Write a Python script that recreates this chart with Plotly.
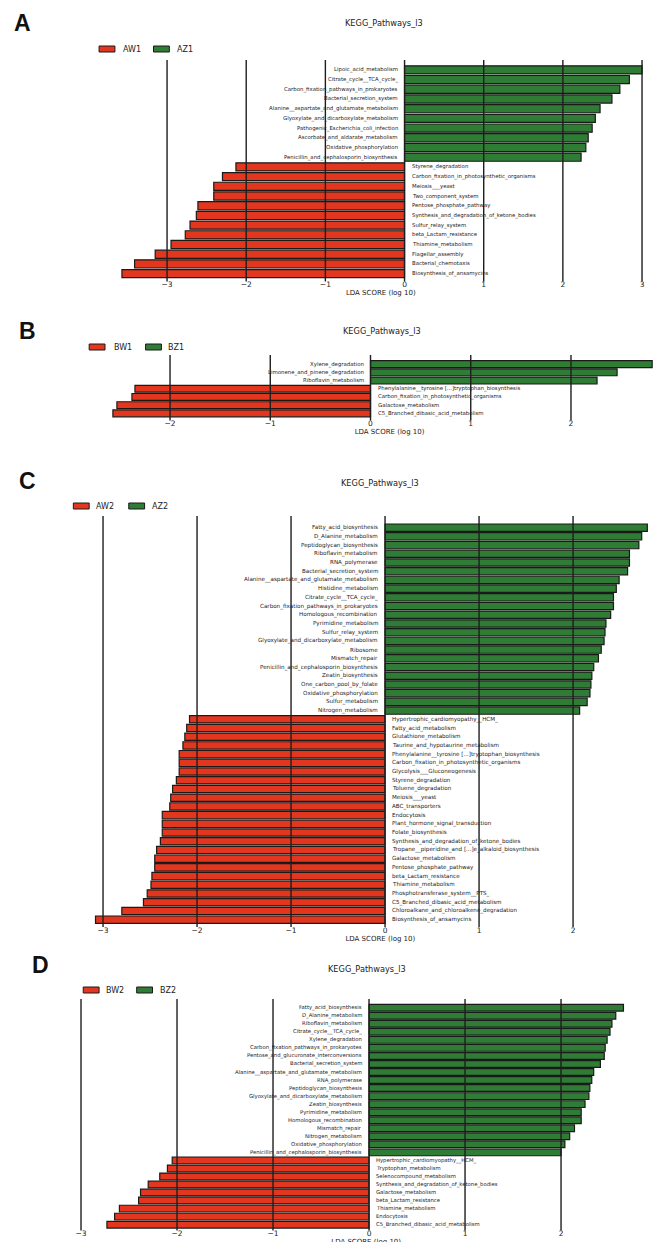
import plotly.graph_objects as go

# ---------------- data ----------------
A_green_labels = ["Lipoic_acid_metabolism", "Citrate_cycle__TCA_cycle_",
                  "Carbon_fixation_pathways_in_prokaryotes", "Bacterial_secretion_system",
                  "Alanine__aspartate_and_glutamate_metabolism", "Glyoxylate_and_dicarboxylate_metabolism",
                  "Pathogenic_Escherichia_coli_infection", "Ascorbate_and_aldarate_metabolism",
                  "Oxidative_phosphorylation", "Penicillin_and_cephalosporin_biosynthesis"]
A_green_values = [3.00, 2.84, 2.72, 2.62, 2.47, 2.41, 2.37, 2.32, 2.29, 2.23]
A_red_labels = ["Styrene_degradation", "Carbon_fixation_in_photosynthetic_organisms", "Meiosis___yeast",
                "Two_component_system", "Pentose_phosphate_pathway",
                "Synthesis_and_degradation_of_ketone_bodies", "Sulfur_relay_system",
                "beta_Lactam_resistance", "Thiamine_metabolism", "Flagellar_assembly",
                "Bacterial_chemotaxis", "Biosynthesis_of_ansamycins"]
A_red_values = [-2.13, -2.30, -2.41, -2.41, -2.61, -2.63, -2.71, -2.77, -2.95, -3.15, -3.41, -3.57]

B_green_labels = ["Xylene_degradation", "Limonene_and_pinene_degradation", "Riboflavin_metabolism"]
B_green_values = [2.81, 2.46, 2.26]
B_red_labels = ["Phenylalanine__tyrosine [...]tryptophan_biosynthesis",
                "Carbon_fixation_in_photosynthetic_organisms", "Galactose_metabolism",
                "C5_Branched_dibasic_acid_metabolism"]
B_red_values = [-2.35, -2.38, -2.53, -2.57]

C_green_labels = ["Fatty_acid_biosynthesis", "D_Alanine_metabolism", "Peptidoglycan_biosynthesis",
                  "Riboflavin_metabolism", "RNA_polymerase", "Bacterial_secretion_system",
                  "Alanine__aspartate_and_glutamate_metabolism", "Histidine_metabolism",
                  "Citrate_cycle__TCA_cycle_", "Carbon_fixation_pathways_in_prokaryotes",
                  "Homologous_recombination", "Pyrimidine_metabolism", "Sulfur_relay_system",
                  "Glyoxylate_and_dicarboxylate_metabolism", "Ribosome", "Mismatch_repair",
                  "Penicillin_and_cephalosporin_biosynthesis", "Zeatin_biosynthesis",
                  "One_carbon_pool_by_folate", "Oxidative_phosphorylation", "Sulfur_metabolism",
                  "Nitrogen_metabolism"]
C_green_values = [2.79, 2.73, 2.70, 2.60, 2.60, 2.58, 2.49, 2.46, 2.43, 2.43, 2.40,
                  2.35, 2.34, 2.33, 2.30, 2.27, 2.22, 2.20, 2.19, 2.18, 2.15, 2.07]
C_red_labels = ["Hypertrophic_cardiomyopathy__HCM_", "Fatty_acid_metabolism", "Glutathione_metabolism",
                "Taurine_and_hypotaurine_metabolism", "Phenylalanine__tyrosine [...]tryptophan_biosynthesis",
                "Carbon_fixation_in_photosynthetic_organisms", "Glycolysis___Gluconeogenesis",
                "Styrene_degradation", "Toluene_degradation", "Meiosis___yeast", "ABC_transporters",
                "Endocytosis", "Plant_hormone_signal_transduction", "Folate_biosynthesis",
                "Synthesis_and_degradation_of_ketone_bodies",
                "Tropane__piperidine_and [...]e_alkaloid_biosynthesis", "Galactose_metabolism",
                "Pentose_phosphate_pathway", "beta_Lactam_resistance", "Thiamine_metabolism",
                "Phosphotransferase_system__PTS_", "C5_Branched_dibasic_acid_metabolism",
                "Chloroalkane_and_chloroalkene_degradation", "Biosynthesis_of_ansamycins"]
C_red_values = [-2.08, -2.11, -2.13, -2.15, -2.19, -2.19, -2.19, -2.22, -2.26, -2.28, -2.29, -2.37,
                -2.37, -2.37, -2.39, -2.43, -2.45, -2.45, -2.48, -2.49, -2.53, -2.57, -2.80, -3.08]

D_green_labels = ["Fatty_acid_biosynthesis", "D_Alanine_metabolism", "Riboflavin_metabolism",
                  "Citrate_cycle__TCA_cycle_", "Xylene_degradation", "Carbon_fixation_pathways_in_prokaryotes",
                  "Pentose_and_glucuronate_interconversions", "Bacterial_secretion_system",
                  "Alanine__aspartate_and_glutamate_metabolism", "RNA_polymerase",
                  "Peptidoglycan_biosynthesis", "Glyoxylate_and_dicarboxylate_metabolism",
                  "Zeatin_biosynthesis", "Pyrimidine_metabolism", "Homologous_recombination",
                  "Mismatch_repair", "Nitrogen_metabolism", "Oxidative_phosphorylation",
                  "Penicillin_and_cephalosporin_biosynthesis"]
D_green_values = [2.65, 2.57, 2.53, 2.51, 2.48, 2.46, 2.45, 2.41, 2.34, 2.32, 2.30, 2.29,
                  2.25, 2.21, 2.21, 2.14, 2.09, 2.04, 2.00]
D_red_labels = ["Hypertrophic_cardiomyopathy__HCM_", "Tryptophan_metabolism", "Selenocompound_metabolism",
                "Synthesis_and_degradation_of_ketone_bodies", "Galactose_metabolism",
                "beta_Lactam_resistance", "Thiamine_metabolism", "Endocytosis",
                "C5_Branched_dibasic_acid_metabolism"]
D_red_values = [-2.05, -2.10, -2.18, -2.30, -2.38, -2.40, -2.60, -2.65, -2.73]

A_ticks = [-3, -2, -1, 0, 1, 2, 3]
B_ticks = [-2, -1, 0, 1, 2, 3]
C_ticks = [-3, -2, -1, 0, 1, 2, 3]
D_ticks = [-3, -2, -1, 0, 1, 2]

TITLE = "KEGG_Pathways_l3"
XLABEL = "LDA SCORE (log 10)"

# ---------------- style / layout ----------------
W, H = 668, 1242
RED = "#e2361f"
GREEN = "#2f7d34"
EDGE = "#1a1a1a"
GRID = "#1e1e1e"
TXT = "#222222"
FONT = "DejaVu Sans"

panels = [
    dict(letter="A", red_name="AW1", green_name="AZ1",
         gl=A_green_labels, gv=A_green_values, rl=A_red_labels, rv=A_red_values, ticks=A_ticks,
         xr=[-3.62, 3.02], xpx=[107.1, 638.3], grid_top=52, bars_top=57, bars_bottom=270.5,
         grid_bottom=273.5, title_xy=(376, 15), leg_y=41, leg_x=(88, 110, 143, 165),
         let_xy=(11, 15), fs=5.4, tstand=2),
    dict(letter="B", red_name="BW1", green_name="BZ1",
         gl=B_green_labels, gv=B_green_values, rl=B_red_labels, rv=B_red_values, ticks=B_ticks,
         xr=[-2.62, 3.0], xpx=[96.9, 666.2], grid_top=347, bars_top=352, bars_bottom=409.5,
         grid_bottom=412.5, title_xy=(374, 323), leg_y=339, leg_x=(78, 101, 135, 156),
         let_xy=(16, 323), fs=5.4, tstand=2),
    dict(letter="C", red_name="AW2", green_name="AZ2",
         gl=C_green_labels, gv=C_green_values, rl=C_red_labels, rv=C_red_values, ticks=C_ticks,
         xr=[-3.12, 3.02], xpx=[80.6, 663.9], grid_top=508, bars_top=515.3, bars_bottom=916,
         grid_bottom=919, title_xy=(372, 475), leg_y=498, leg_x=(62, 83, 118, 139),
         let_xy=(16, 473), fs=5.6, tstand=2),
    dict(letter="D", red_name="BW2", green_name="BZ2",
         gl=D_green_labels, gv=D_green_values, rl=D_red_labels, rv=D_red_values, ticks=D_ticks,
         xr=[-3.02, 2.96], xpx=[67.8, 648.0], grid_top=991, bars_top=995.7, bars_bottom=1220.7,
         grid_bottom=1222.5, title_xy=(359, 961), leg_y=982, leg_x=(72, 93, 126, 148),
         let_xy=(29, 957), fs=5.3, tstand=0),
]

fig = go.Figure()
layout = dict(width=W, height=H, margin=dict(l=0, r=0, t=0, b=0),
              paper_bgcolor="white", plot_bgcolor="white", barmode="overlay",
              font=dict(family=FONT, color=TXT), showlegend=False)
shapes, annotations = [], []

for k, p in enumerate(panels, start=1):
    sfx = "" if k == 1 else str(k)
    xa, ya = "x" + sfx, "y" + sfx
    ng, nr = len(p["gl"]), len(p["rl"])
    n = ng + nr
    g_idx = list(range(ng))
    r_idx = list(range(ng, n))

    fig.add_trace(go.Bar(x=p["rv"], y=r_idx, orientation="h", name=p["red_name"],
                         marker=dict(color=RED, line=dict(color=EDGE, width=1.2)), width=0.84,
                         xaxis=xa, yaxis=ya, hoverinfo="skip"))
    fig.add_trace(go.Bar(x=p["gv"], y=g_idx, orientation="h", name=p["green_name"],
                         marker=dict(color=GREEN, line=dict(color=EDGE, width=1.2)), width=0.84,
                         xaxis=xa, yaxis=ya, hoverinfo="skip"))

    pitch = (p["bars_bottom"] - p["bars_top"]) / n
    top_val = -0.5 - (p["bars_top"] - p["grid_top"]) / pitch
    bot_val = n - 0.5 + (p["grid_bottom"] - p["bars_bottom"]) / pitch

    layout["xaxis" + sfx] = dict(domain=[p["xpx"][0] / W, p["xpx"][1] / W], range=p["xr"],
                                 anchor=ya, tickmode="array", tickvals=p["ticks"],
                                 ticks="", ticklabelstandoff=-3,
                                 showgrid=False, zeroline=False, showline=False,
                                 tickfont=dict(size=7.5, color=TXT),
                                 title=dict(text=XLABEL, font=dict(size=7, color=TXT),
                                            standoff=p["tstand"]))
    layout["yaxis" + sfx] = dict(domain=[1 - p["grid_bottom"] / H, 1 - p["grid_top"] / H],
                                 range=[bot_val, top_val], anchor=xa, visible=False)

    for t in p["ticks"]:
        shapes.append(dict(type="line", xref=xa, yref=ya + " domain", x0=t, x1=t, y0=0, y1=1,
                           layer="above", line=dict(color=GRID, width=1.4)))

    for lab, i in zip(p["gl"], g_idx):
        annotations.append(dict(x=0, y=i, xref=xa, yref=ya, text=lab, showarrow=False,
                                xanchor="right", yanchor="middle", xshift=-5,
                                font=dict(size=p["fs"], color=TXT)))
    for lab, i in zip(p["rl"], r_idx):
        annotations.append(dict(x=0, y=i, xref=xa, yref=ya, text=lab, showarrow=False,
                                xanchor="left", yanchor="middle", xshift=5,
                                font=dict(size=p["fs"], color=TXT)))

    tx, ty = p["title_xy"]
    annotations.append(dict(x=tx / W, y=1 - ty / H, xref="paper", yref="paper", text=TITLE,
                            showarrow=False, xanchor="center", yanchor="middle",
                            font=dict(size=8.2, color=TXT)))
    lx, ly = p["let_xy"]
    annotations.append(dict(x=lx / W, y=1 - ly / H, xref="paper", yref="paper",
                            text="<b>" + p["letter"] + "</b>", showarrow=False,
                            xanchor="center", yanchor="middle",
                            font=dict(size=23, family="Liberation Sans", color="#111111")))

    # legend (swatch + name for each group)
    rx, rtx, gx, gtx = p["leg_x"]
    ly = p["leg_y"]
    for sx, tx2, col, name in ((rx, rtx, RED, p["red_name"]), (gx, gtx, GREEN, p["green_name"])):
        shapes.append(dict(type="rect", xref="paper", yref="paper",
                           x0=sx / W, x1=(sx + 16) / W, y0=1 - (ly + 3) / H, y1=1 - (ly - 3) / H,
                           fillcolor=col, line=dict(color=EDGE, width=1)))
        annotations.append(dict(x=tx2 / W, y=1 - ly / H, xref="paper", yref="paper", text=name,
                                showarrow=False, xanchor="left", yanchor="middle",
                                font=dict(size=8, color=TXT)))

layout["shapes"] = shapes
layout["annotations"] = annotations
fig.update_layout(**layout)
fig.write_html("out.html")
